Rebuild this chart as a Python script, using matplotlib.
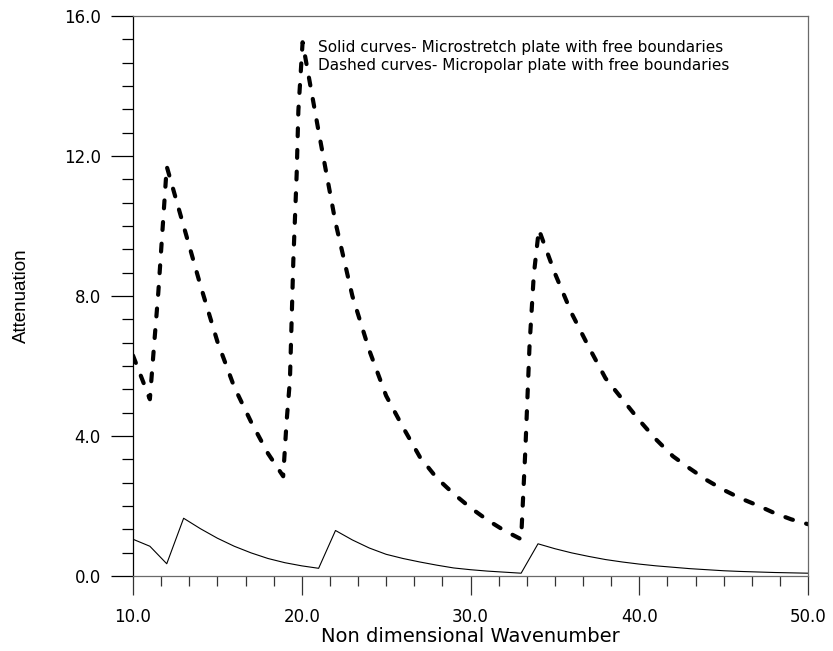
import numpy as np
import matplotlib
matplotlib.use('Agg')
import matplotlib.pyplot as plt
from matplotlib.ticker import MultipleLocator

# solid: microstretch plate
solid_x = list(range(10, 51))
solid_y = [1.05, 0.85, 0.35, 1.65, 1.35, 1.08, 0.85, 0.66, 0.50, 0.38,
           0.29, 0.22, 1.30, 1.03, 0.80, 0.62, 0.50, 0.40, 0.31, 0.23,
           0.18, 0.14, 0.11, 0.08, 0.92, 0.78, 0.66, 0.56, 0.47, 0.40,
           0.34, 0.29, 0.25, 0.21, 0.18, 0.15, 0.13, 0.115, 0.10, 0.09, 0.08]

# dashed: micropolar plate
dash_x = [10, 11, 11.25, 11.5, 11.75, 12, 13, 14, 15, 16, 17, 18, 18.9,
          19.1, 19.3, 19.5, 19.7, 19.8, 20.05, 21, 22, 23, 24, 25, 26, 27,
          28, 29, 30, 31, 32, 33, 33.25, 33.5, 33.75, 34.05, 35, 36, 37, 38,
          39, 40, 41, 42, 43, 44, 45, 46, 47, 48, 49, 50]
dash_y = [6.3, 5.05, 6.6, 8.1, 9.9, 11.7, 10.0, 8.3, 6.7, 5.4, 4.4, 3.5, 2.85,
          4.4, 5.6, 9.0, 11.5, 13.3, 15.25, 12.7, 10.1, 8.0, 6.45, 5.15, 4.25, 3.4,
          2.8, 2.35, 1.95, 1.6, 1.3, 1.05, 3.6, 6.6, 8.6, 9.9, 8.65, 7.5, 6.55, 5.65,
          5.05, 4.45, 3.9, 3.42, 3.07, 2.74, 2.46, 2.22, 2.02, 1.8, 1.62, 1.48]

fig = plt.figure(figsize=(8.33, 6.51), dpi=100)
ax = fig.add_axes([133/833, 75/651, 675/833, 560/651])

ax.plot(solid_x, solid_y, color='black', lw=0.8)
ax.plot(dash_x, dash_y, color='black', lw=3, dashes=(1.9, 3.3),
        dash_capstyle='round')

ax.set_xlim(10, 50)
ax.set_ylim(0, 16)
ax.xaxis.set_major_locator(MultipleLocator(10))
ax.xaxis.set_minor_locator(MultipleLocator(10/6))
ax.yaxis.set_major_locator(MultipleLocator(4))
ax.yaxis.set_minor_locator(MultipleLocator(4/6))
ax.xaxis.set_major_formatter(lambda v, p: f'{v:.1f}')
ax.yaxis.set_major_formatter(lambda v, p: f'{v:.1f}')

gray = '#6a6a6a'
for s in ['top', 'right', 'bottom']:
    ax.spines[s].set_color(gray)
ax.spines['left'].set_color('black')
for s in ax.spines.values():
    s.set_linewidth(0.9)

ax.tick_params(axis='y', which='major', length=15.8, width=0.9, color='black',
               pad=7.5, labelsize=12)
ax.tick_params(axis='y', which='minor', length=7.9, width=0.9, color='black')
ax.tick_params(axis='x', which='major', length=13.7, width=0.9, color='#333333',
               pad=9, labelsize=12)
ax.tick_params(axis='x', which='minor', length=7.2, width=0.9, color='#333333')

ax.set_xlabel('Non dimensional Wavenumber', fontsize=14, labelpad=1)
ax.set_ylabel('Attenuation', fontsize=13.5, family=['Liberation Sans', 'DejaVu Sans'])
ax.yaxis.set_label_coords(-0.152, 0.5)

ax.text(0.274, 0.943, 'Solid curves- Microstretch plate with free boundaries',
        transform=ax.transAxes, fontsize=11, va='center')
ax.text(0.274, 0.911, 'Dashed curves- Micropolar plate with free boundaries',
        transform=ax.transAxes, fontsize=11, va='center')

fig.savefig('out.png', dpi=100)
